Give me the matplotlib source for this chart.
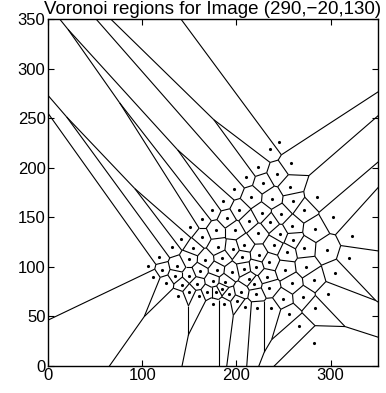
import numpy as np
import matplotlib
matplotlib.use("Agg")
import matplotlib.pyplot as plt
import matplotlib.tri as mtri
from matplotlib.collections import LineCollection

plt.rcParams['font.family'] = ['Liberation Sans', 'DejaVu Sans']

# image points (data units)
pts_x = [245, 236, 258, 223, 243, 210, 228, 257, 286, 197,
         216, 238, 260, 272, 303, 186, 203, 227, 247, 174,
         190, 213, 236, 259, 163, 178, 198, 223, 246, 283,
         323, 151, 163, 141, 154, 180, 196, 131, 150, 167,
         185, 137, 161, 179, 195, 135, 150, 175, 188, 142,
         158, 185, 150, 138, 160, 169, 178, 192, 118, 106,
         121, 111, 125, 240, 208, 206, 224, 235, 208, 221,
         213, 232, 219, 235, 205, 221, 254, 260, 252, 259,
         272, 296, 320, 274, 305, 282, 297, 271, 249, 175,
         187, 201, 209, 222, 237, 256, 283, 266, 282]
pts_y = [226, 219, 205, 201, 194, 191, 185, 181, 171, 179,
         171, 169, 166, 157, 150, 166, 157, 154, 153, 157,
         149, 146, 145, 141, 148, 137, 137, 134, 133, 138,
         131, 140, 130, 128, 119, 120, 118, 120, 108, 107,
         109, 101, 96, 97, 95, 91, 91, 86, 85, 82,
         83, 78, 75, 70, 70, 74, 74, 72, 110, 101,
         97, 90, 84, 122, 122, 110, 112, 105, 98, 100,
         88, 90, 83, 79, 75, 72, 115, 127, 97, 84,
         119, 117, 109, 100, 94, 87, 72, 69, 67, 62,
         62, 65, 59, 58, 58, 52, 58, 40, 23]

x = np.array(pts_x, dtype=float)
y = np.array(pts_y, dtype=float)


def voronoi_segments(x, y, far=2000.0):
    tri = mtri.Triangulation(x, y)
    T = tri.triangles
    ax_, ay_ = x[T[:, 0]], y[T[:, 0]]
    bx_, by_ = x[T[:, 1]], y[T[:, 1]]
    cx_, cy_ = x[T[:, 2]], y[T[:, 2]]
    d = 2 * (ax_ * (by_ - cy_) + bx_ * (cy_ - ay_) + cx_ * (ay_ - by_))
    a2 = ax_**2 + ay_**2
    b2 = bx_**2 + by_**2
    c2 = cx_**2 + cy_**2
    ux = (a2 * (by_ - cy_) + b2 * (cy_ - ay_) + c2 * (ay_ - by_)) / d
    uy = (a2 * (cx_ - bx_) + b2 * (ax_ - cx_) + c2 * (bx_ - ax_)) / d
    center = np.array([x.mean(), y.mean()])
    segs = []
    for i in range(len(T)):
        for j in range(3):
            n = tri.neighbors[i, j]
            if n > i:
                segs.append([(ux[i], uy[i]), (ux[n], uy[n])])
            elif n == -1:
                p1, p2 = T[i, j], T[i, (j + 1) % 3]
                t = np.array([x[p2] - x[p1], y[p2] - y[p1]])
                t = t / np.hypot(*t)
                nrm = np.array([-t[1], t[0]])
                mid = np.array([(x[p1] + x[p2]) / 2, (y[p1] + y[p2]) / 2])
                sgn = np.sign(np.dot(mid - center, nrm))
                v = np.array([ux[i], uy[i]])
                segs.append([tuple(v), tuple(v + sgn * nrm * far)])
    return segs


fig = plt.figure(figsize=(3.86, 3.93), dpi=100)
ax = fig.add_axes([0.1251, 0.0695, 0.853, 0.8809])

segs = voronoi_segments(x, y)
ax.add_collection(LineCollection(segs, colors='k', linewidths=0.8))
ax.plot(x, y, 'k.', markersize=2.5)

ax.set_xlim(0, 350)
ax.set_ylim(0, 350)
ax.set_xticks([0, 100, 200, 300])
ax.set_yticks([0, 50, 100, 150, 200, 250, 300, 350])
ax.tick_params(direction='in', top=True, right=True, length=4, width=0.8,
               labelsize=12, pad=2)
for s in ax.spines.values():
    s.set_linewidth(1.0)
ax.set_title('Voronoi regions for Image (290,\u221220,130)', fontsize=13.5, pad=4)

fig.savefig('out.png', dpi=100)
